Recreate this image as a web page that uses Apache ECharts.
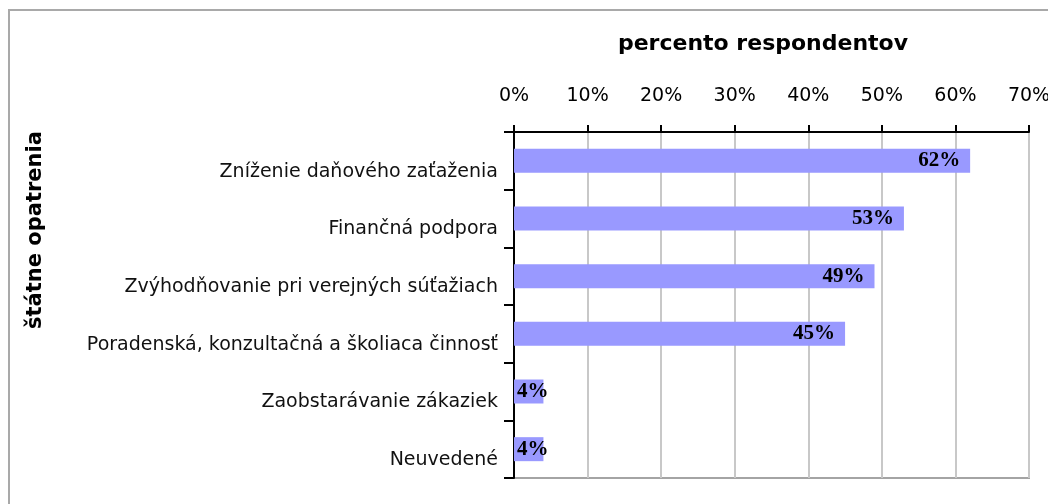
<!DOCTYPE html>
<html>
<head>
	<meta charset="UTF-8">
	<title>statne opatrenia</title>
	<script src="https://cdn.jsdelivr.net/npm/echarts@6/dist/echarts.min.js"></script>
	<style>
		html, body { margin: 0; padding: 0; background: #fff; }
		#chart { width: 1048px; height: 504px; }
	</style>
</head>
<body>
	<div id="chart"></div>

	<script type="text/javascript">
		// data
		var categories = ['Zníženie daňového zaťaženia', 'Finančná podpora', 'Zvýhodňovanie pri verejných súťažiach',
			'Poradenská, konzultačná a školiaca činnosť', 'Zaobstarávanie zákaziek', 'Neuvedené'];
		var values = [62, 53, 49, 45, 4, 4];
		var xMin = 0, xMax = 70, xStep = 10;
		var xTitle = 'percento respondentov';
		var yTitle = 'štátne opatrenia';

		var chart = echarts.init(document.getElementById('chart'));

		var barData = values.map(function (v) {
			// short bars get the label at the start
			if (v < 10) return { value: v, label: { position: 'insideLeft', distance: 3 } };
			return { value: v };
		});

		var option = {
			backgroundColor: '#fff',
			animation: false,
			graphic: [
				{ type: 'rect', shape: { x: 9, y: 10, width: 1100, height: 600 },
				  style: { fill: 'none', stroke: '#a9a9a9', lineWidth: 2 }, silent: true },
				{ type: 'text', x: 763, y: 44,
				  style: { text: xTitle, fontFamily: 'DejaVu Sans', fontWeight: 'bold', fontSize: 22,
				           fill: '#000', align: 'center', verticalAlign: 'middle' } },
				{ type: 'text', x: 36, y: 230, rotation: Math.PI / 2,
				  style: { text: yTitle, fontFamily: 'DejaVu Sans', fontWeight: 'bold', fontSize: 21,
				           fill: '#000', align: 'center', verticalAlign: 'middle' } }
			],
			grid: {
				left: 514, top: 132, right: 19, bottom: 26,
				outerBoundsMode: 'none', containLabel: false,
				show: true, borderWidth: 2, borderColor: '#a4a4a4'
			},
			xAxis: {
				type: 'value', position: 'top',
				min: xMin, max: xMax, interval: xStep,
				axisLine: { show: true, lineStyle: { color: '#000', width: 2 } },
				axisTick: { show: true, length: 7, lineStyle: { color: '#000', width: 2 } },
				axisLabel: { formatter: '{value}%', margin: 26, color: '#000',
				             fontFamily: 'DejaVu Sans', fontSize: 19 },
				splitLine: { show: true, lineStyle: { color: '#c8c8c8', width: 2 } }
			},
			yAxis: {
				type: 'category', inverse: true, data: categories,
				axisLine: { show: true, lineStyle: { color: '#000', width: 2 } },
				axisTick: { show: true, length: 10, lineStyle: { color: '#000', width: 2 } },
				axisLabel: { margin: 16, color: '#111', fontFamily: 'DejaVu Sans', fontSize: 19,
				             verticalAlign: 'top', lineHeight: 22 },
				splitLine: { show: false }
			},
			series: [{
				type: 'bar',
				data: barData,
				barWidth: 24,
				itemStyle: { color: '#9999ff' },
				label: {
					show: true, position: 'insideRight', distance: 10,
					formatter: '{c}%', color: '#000',
					fontFamily: 'Liberation Serif', fontWeight: 'bold', fontSize: 21
				}
			}]
		};

		chart.setOption(option);
	</script>
</body>
</html>
